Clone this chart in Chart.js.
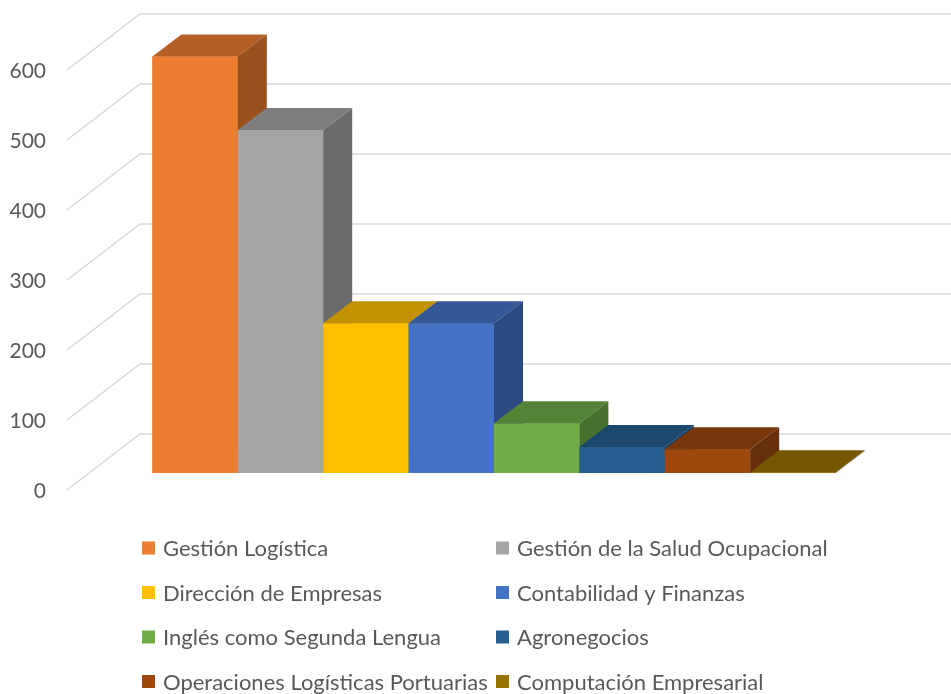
<!DOCTYPE html>
<html>
<head>
<meta charset="utf-8">
<script src="https://cdn.jsdelivr.net/npm/chart.js@4"></script>
<style>
  body { margin: 0; background: #fff; }
</style>
</head>
<body>
<canvas id="myChart" width="951" height="694"></canvas>
<script>
// data
var categories = [''];
var series = [
    'Gestión Logística',
    'Gestión de la Salud Ocupacional',
    'Dirección de Empresas',
    'Contabilidad y Finanzas',
    'Inglés como Segunda Lengua',
    'Agronegocios',
    'Operaciones Logísticas Portuarias',
    'Computación Empresarial'
];
var values = [595, 490, 214, 214, 71, 37, 34, 1];
var colors = ['#ED7D31', '#A5A5A5', '#FFC000', '#4472C4', '#70AD47', '#255E91', '#9E480E', '#997300'];
var yTicks = [0, 100, 200, 300, 400, 500, 600];

// depth of the fake 3d
var BAR_DX = 29, BAR_DY = 22;
var FLOOR_FRONT = 17, WALL_DX = 73, WALL_DY = 56;

function shade(hex, f) {
    var n = parseInt(hex.slice(1), 16);
    var r = Math.round(((n >> 16) & 255) * f);
    var g = Math.round(((n >> 8) & 255) * f);
    var b = Math.round((n & 255) * f);
    return 'rgb(' + r + ',' + g + ',' + b + ')';
}

function poly(ctx, pts, fill) {
    ctx.beginPath();
    ctx.moveTo(pts[0][0], pts[0][1]);
    for (var i = 1; i < pts.length; i++) ctx.lineTo(pts[i][0], pts[i][1]);
    ctx.closePath();
    ctx.fillStyle = fill;
    ctx.fill();
}

var threeD = {
    id: 'threeD',
    beforeDatasetsDraw: function(chart) {
        var ctx = chart.ctx, y = chart.scales.y, a = chart.chartArea;
        ctx.save();
        ctx.strokeStyle = '#d9d9d9';
        ctx.lineWidth = 1.5;
        y.ticks.forEach(function(t) {
            var py = y.getPixelForValue(t.value);
            ctx.beginPath();
            ctx.moveTo(a.left, py + FLOOR_FRONT);
            ctx.lineTo(a.left + WALL_DX, py + FLOOR_FRONT - WALL_DY);
            ctx.lineTo(chart.width, py + FLOOR_FRONT - WALL_DY);
            ctx.stroke();
        });
        ctx.restore();
    },
    afterDatasetsDraw: function(chart) {
        var ctx = chart.ctx;
        ctx.save();
        chart.data.datasets.forEach(function(ds, i) {
            var meta = chart.getDatasetMeta(i);
            meta.data.forEach(function(el) {
                var p = el.getProps(['x', 'y', 'base', 'width'], true);
                var x0 = p.x - p.width / 2, x1 = p.x + p.width / 2;
                var c = ds.backgroundColor;
                ctx.fillStyle = c;
                ctx.fillRect(x0, p.y, p.width, p.base - p.y);
                poly(ctx, [[x0, p.y], [x1, p.y], [x1 + BAR_DX, p.y - BAR_DY], [x0 + BAR_DX, p.y - BAR_DY]], shade(c, 0.76));
                poly(ctx, [[x1, p.y], [x1 + BAR_DX, p.y - BAR_DY], [x1 + BAR_DX, p.base - BAR_DY], [x1, p.base]], shade(c, 0.65));
            });
        });
        ctx.restore();
    },
    afterDraw: function(chart) {
        // two column legend under the plot
        var ctx = chart.ctx;
        var colX = [142, 496];
        ctx.save();
        ctx.font = '22px Lato';
        ctx.textBaseline = 'middle';
        chart.data.datasets.forEach(function(ds, i) {
            var x = colX[i % 2];
            var cy = 548 + Math.floor(i / 2) * 44.5;
            ctx.fillStyle = ds.backgroundColor;
            ctx.fillRect(x, cy - 6.5, 13, 13);
            ctx.fillStyle = '#595959';
            ctx.fillText(ds.label, x + 21, cy + 1);
        });
        ctx.restore();
    }
};

var datasets = series.map(function(name, i) {
    return {
        label: name,
        data: [values[i]],
        backgroundColor: colors[i]
    };
});

var ctx = document.getElementById('myChart').getContext('2d');
var myChart = new Chart(ctx, {
    type: 'bar',
    data: {
        labels: categories,
        datasets: datasets
    },
    options: {
        responsive: false,
        animation: false,
        layout: {
            padding: { top: 53, right: 30, bottom: 221, left: 0 }
        },
        datasets: {
            bar: { categoryPercentage: 0.8, barPercentage: 1 }
        },
        plugins: {
            legend: { display: false },
            tooltip: { enabled: false }
        },
        scales: {
            x: { display: false },
            y: {
                min: yTicks[0],
                max: yTicks[yTicks.length - 1],
                afterBuildTicks: function(scale) {
                    scale.ticks = yTicks.map(function(v) { return { value: v }; });
                },
                afterFit: function(scale) { scale.width = 67; },
                grid: { display: false, drawTicks: false },
                border: { display: false },
                ticks: {
                    padding: 21,
                    labelOffset: 18,
                    color: '#595959',
                    font: { family: 'Lato', size: 21 }
                }
            }
        }
    },
    plugins: [threeD]
});
</script>
</body>
</html>
